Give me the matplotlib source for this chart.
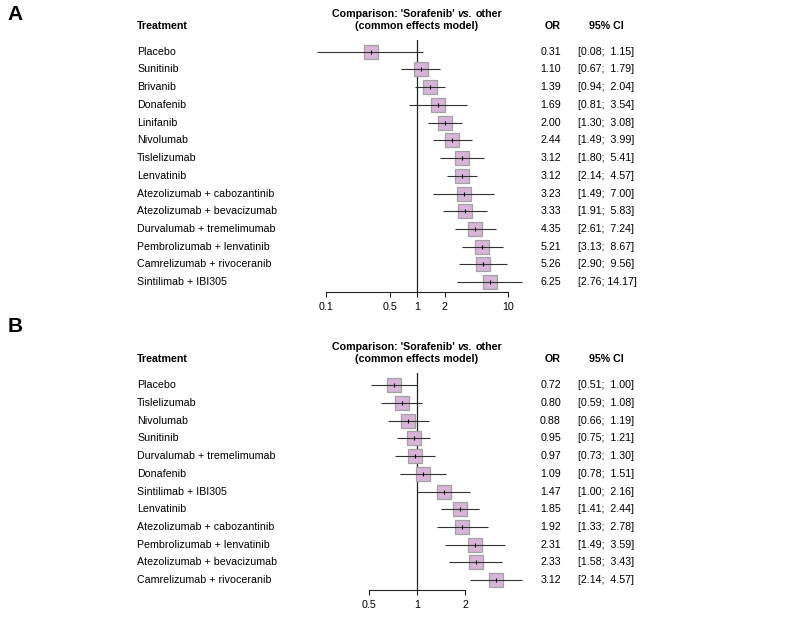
import matplotlib
matplotlib.use("Agg")
import matplotlib.pyplot as plt
from matplotlib.transforms import blended_transform_factory
from matplotlib.ticker import NullLocator
import numpy as np

plt.rcParams['font.family'] = ['Liberation Sans', 'DejaVu Sans']

W, H = 787, 617

# ---------------- data ----------------
treat_a = ["Placebo", "Sunitinib", "Brivanib", "Donafenib", "Linifanib", "Nivolumab",
           "Tislelizumab", "Lenvatinib", "Atezolizumab + cabozantinib",
           "Atezolizumab + bevacizumab", "Durvalumab + tremelimumab",
           "Pembrolizumab + lenvatinib", "Camrelizumab + rivoceranib", "Sintilimab + IBI305"]
or_a = [0.31, 1.10, 1.39, 1.69, 2.00, 2.44, 3.12, 3.12, 3.23, 3.33, 4.35, 5.21, 5.26, 6.25]
lo_a = [0.08, 0.67, 0.94, 0.81, 1.30, 1.49, 1.80, 2.14, 1.49, 1.91, 2.61, 3.13, 2.90, 2.76]
hi_a = [1.15, 1.79, 2.04, 3.54, 3.08, 3.99, 5.41, 4.57, 7.00, 5.83, 7.24, 8.67, 9.56, 14.17]
ticks_a = [0.1, 0.5, 1, 2, 10]
ticklabels_a = ["0.1", "0.5", "1", "2", "10"]

treat_b = ["Placebo", "Tislelizumab", "Nivolumab", "Sunitinib", "Durvalumab + tremelimumab",
           "Donafenib", "Sintilimab + IBI305", "Lenvatinib", "Atezolizumab + cabozantinib",
           "Pembrolizumab + lenvatinib", "Atezolizumab + bevacizumab", "Camrelizumab + rivoceranib"]
or_b = [0.72, 0.80, 0.88, 0.95, 0.97, 1.09, 1.47, 1.85, 1.92, 2.31, 2.33, 3.12]
lo_b = [0.51, 0.59, 0.66, 0.75, 0.73, 0.78, 1.00, 1.41, 1.33, 1.49, 1.58, 2.14]
hi_b = [1.00, 1.08, 1.19, 1.21, 1.30, 1.51, 2.16, 2.44, 2.78, 3.59, 3.43, 4.57]
ticks_b = [0.5, 1, 2]
ticklabels_b = ["0.5", "1", "2"]

# ---------------- style ----------------
FS = 7.7
FILL = '#d8b4d8'
EDGE = '#a2a2a2'
LINE = '#333333'
X_LABEL = 137
X_OR = 561
X_CI = 578
X_CI_HEAD = 606

fig = plt.figure(figsize=(W / 100, H / 100), dpi=100)
renderer = fig.canvas.get_renderer()


def px_axes(left, top, right, bottom):
    return fig.add_axes([left / W, 1 - bottom / H, (right - left) / W, (bottom - top) / H])


def text_width(s, **kw):
    t = fig.text(0, 0, s, fontsize=FS, **kw)
    w = t.get_window_extent(renderer).width
    t.remove()
    return w


def header_line1(ax, tr, y, xc):
    parts = [("Comparison: 'Sorafenib'", dict(fontweight='bold')),
             (" ", dict(fontweight='bold')),
             ("vs.", dict(fontweight='bold', fontstyle='italic')),
             (" ", dict(fontweight='bold')),
             ("other", dict(fontweight='bold'))]
    space = text_width("a a", fontweight='bold') - text_width("aa", fontweight='bold')
    widths = [space if s == " " else text_width(s, **kw) for s, kw in parts]
    x = xc - sum(widths) / 2
    for (s, kw), w in zip(parts, widths):
        if s != " ":
            ax.text(x / W, y, s, transform=tr, ha='left', va='center', fontsize=FS, **kw)
        x += w


def ci_text(l, h):
    # upper bound padded to width 5 so the column lines up (as in the original)
    return f"[{l:.2f}; {h:5.2f}]"


def panel(letter, letter_ypx, treat, est, lo, hi, box, xlim, ylim, ticks, ticklabels):
    ax = px_axes(*box)
    ax.set_xscale('log')
    ax.set_xlim(xlim)
    ax.set_ylim(ylim)
    y = np.arange(len(treat))
    ax.axvline(1, color='#222222', lw=0.9, zorder=1)
    ax.plot(est, y, 's', ms=9.6, mfc=FILL, mec=EDGE, mew=0.9, clip_on=False, zorder=2)
    ax.hlines(y, lo, hi, color=LINE, lw=0.8, clip_on=False, zorder=3)
    ax.plot(est, y, '|', ms=3.5, color='black', mew=0.8, clip_on=False, zorder=4)
    for s in ['top', 'right', 'left']:
        ax.spines[s].set_visible(False)
    ax.spines['bottom'].set_linewidth(0.8)
    ax.spines['bottom'].set_color('#222222')
    ax.set_yticks([])
    ax.set_xticks(ticks)
    ax.set_xticklabels(ticklabels)
    ax.xaxis.set_minor_locator(NullLocator())
    ax.tick_params(axis='x', direction='out', length=3.5, width=0.8, pad=3.5,
                   labelsize=FS, color='#222222')
    ax.patch.set_visible(False)

    tr = blended_transform_factory(fig.transFigure, ax.transData)
    for i, (t, e, l, h) in enumerate(zip(treat, est, lo, hi)):
        ax.text(X_LABEL / W, i, t, transform=tr, ha='left', va='center', fontsize=FS)
        ax.text(X_OR / W, i, f"{e:.2f}", transform=tr, ha='right', va='center', fontsize=FS)
        ax.text(X_CI / W, i, ci_text(l, h), transform=tr, ha='left', va='center', fontsize=FS)

    # header
    y2 = -1.45
    y1 = -2.13
    ax.text(X_LABEL / W, y2, "Treatment", transform=tr, ha='left', va='center',
            fontsize=FS, fontweight='bold')
    header_line1(ax, tr, y1, 417)
    ax.text(417 / W, y2, "(common effects model)", transform=tr, ha='center', va='center',
            fontsize=FS, fontweight='bold')
    ax.text(X_OR / W, y2, "OR", transform=tr, ha='right', va='center',
            fontsize=FS, fontweight='bold')
    ax.text(X_CI_HEAD / W, y2, "95% CI", transform=tr, ha='center', va='center',
            fontsize=FS, fontweight='bold')
    fig.text(15 / W, 1 - letter_ypx / H, letter, ha='center', va='center',
             fontsize=15, fontweight='bold')
    return ax


panel("A", 14, treat_a, or_a, lo_a, hi_a, (326, 40, 508.3, 292), (0.1, 10), (13.55, -0.65),
      ticks_a, ticklabels_a)
panel("B", 326, treat_b, or_b, lo_b, hi_b, (369.3, 373, 465, 590), (0.5, 2), (11.55, -0.68),
      ticks_b, ticklabels_b)

fig.savefig("out.png", dpi=100)
